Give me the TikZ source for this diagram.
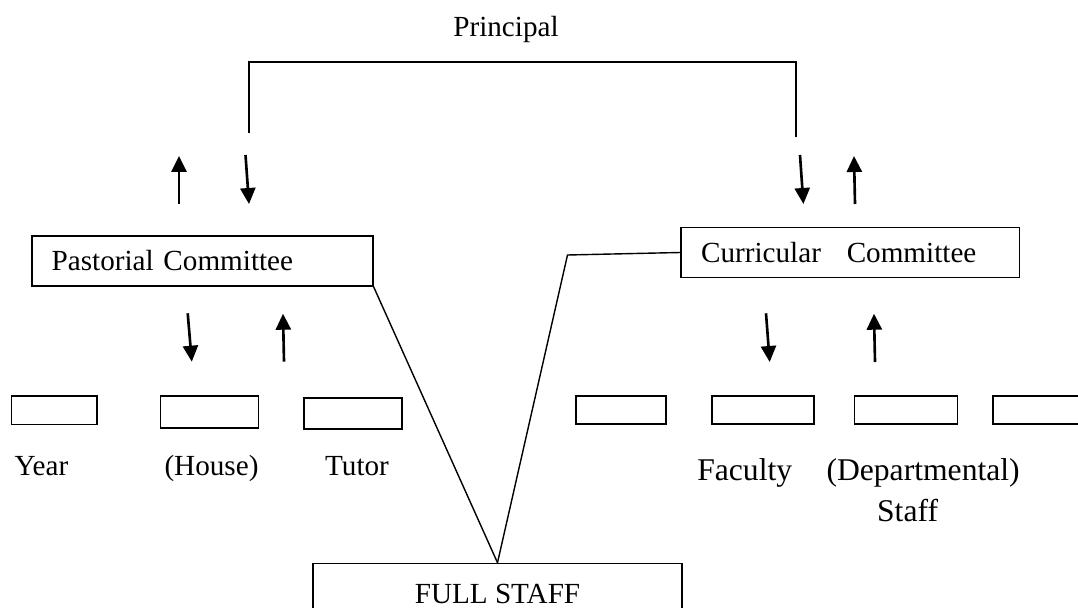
\documentclass[tikz,border=0pt]{standalone}
\usepackage{fontspec}
\setmainfont{Liberation Serif}
\usetikzlibrary{arrows.meta}

\tikzset{
  lbl/.style={font=\fontsize{16.6}{20}\selectfont, inner sep=0pt, anchor=base},
  biglbl/.style={font=\fontsize{18}{22}\selectfont, inner sep=0pt, anchor=base},
  cttee/.style={draw, line width=1pt, font=\fontsize{16.6}{20}\selectfont,
    inner xsep=0.4cm, inner ysep=0pt, align=left, minimum height=1cm},
  slot/.style={draw, line width=1pt, inner sep=0pt, minimum height=0.57cm},
  link/.style={line width=0.8pt},
  flow/.style={line width=1.5pt, -{Triangle[length=3.2mm,width=3mm]}}
}

\begin{document}
\begin{tikzpicture}
      \useasboundingbox (0,0) rectangle (21.56,-12.16);

      % top
      \node[lbl] (principal) at (10.12,-0.734) {Principal};
      \coordinate (bl) at (4.98,-2.66);
      \coordinate (br) at (15.92,-2.74);
      \draw[link] (bl) -- (4.98,-1.24) -- (15.92,-1.24) -- (br);

      % committees
      \node[cttee, text width=6.02cm] (pastoral) at (4.043,-5.214) {Pastorial Committee};
      \node[cttee, text width=5.97cm] (curricular) at (17.007,-5.05) {Curricular\hspace{0.55em} Committee};
      \node[draw, line width=1pt, font=\fontsize{16.6}{20}\selectfont, minimum width=7.38cm,
            minimum height=1.2cm, anchor=north] (full) at (9.95,-11.254) {FULL STAFF};

      \coordinate (bend) at (11.35,-5.1);
      \draw[link] (pastoral.south east) -- (full.north);
      \draw[link] (curricular.west) -- (bend) -- (full.north);

      % arrows between principal and committees
      \coordinate (pa1) at (3.58,-4.08);  \coordinate (pa2) at (3.58,-3.12);
      \coordinate (pb1) at (4.91,-3.10);  \coordinate (pb2) at (4.98,-4.08);
      \coordinate (ca1) at (16.0,-3.10);  \coordinate (ca2) at (16.068,-4.08);
      \coordinate (cb1) at (17.1,-4.08);  \coordinate (cb2) at (17.08,-3.12);
      \draw[flow] (pa1) -- (pa2);
      \draw[flow] (pb1) -- (pb2);
      \draw[flow] (ca1) -- (ca2);
      \draw[flow] (cb1) -- (cb2);

      % arrows between committees and units
      \coordinate (pc1) at (3.754,-6.266); \coordinate (pc2) at (3.836,-7.234);
      \coordinate (pd1) at (5.68,-7.234);  \coordinate (pd2) at (5.66,-6.274);
      \coordinate (cc1) at (15.32,-6.266); \coordinate (cc2) at (15.394,-7.24);
      \coordinate (cd1) at (17.5,-7.24);   \coordinate (cd2) at (17.48,-6.274);
      \draw[flow] (pc1) -- (pc2);
      \draw[flow] (pd1) -- (pd2);
      \draw[flow] (cc1) -- (cc2);
      \draw[flow] (cd1) -- (cd2);

      % units
      \node[slot, minimum width=1.71cm] (year) at (1.084,-8.204) {};
      \node[slot, minimum width=1.96cm, minimum height=0.63cm] (house) at (4.19,-8.238) {};
      \node[slot, minimum width=1.96cm, minimum height=0.63cm] (tutor) at (7.056,-8.268) {};
      \node[slot, minimum width=1.8cm] (unitA) at (12.42,-8.2) {};
      \node[slot, minimum width=2.04cm] (unitB) at (15.258,-8.2) {};
      \node[slot, minimum width=2.06cm] (unitC) at (18.118,-8.2) {};
      \node[slot, minimum width=2cm] (unitD) at (20.856,-8.2) {};

      \node[lbl] (yearlbl) at (0.828,-9.514) {Year};
      \node[lbl] (houselbl) at (4.23,-9.514) {(House)};
      \node[lbl] (tutorlbl) at (7.14,-9.514) {Tutor};
      \node[biglbl] (facultylbl) at (14.894,-9.6) {Faculty};
      \node[biglbl] (deptlbl) at (18.462,-9.6) {(Departmental)};
      \node[biglbl] (stafflbl) at (18.152,-10.434) {Staff};

    \end{tikzpicture}
\end{document}
